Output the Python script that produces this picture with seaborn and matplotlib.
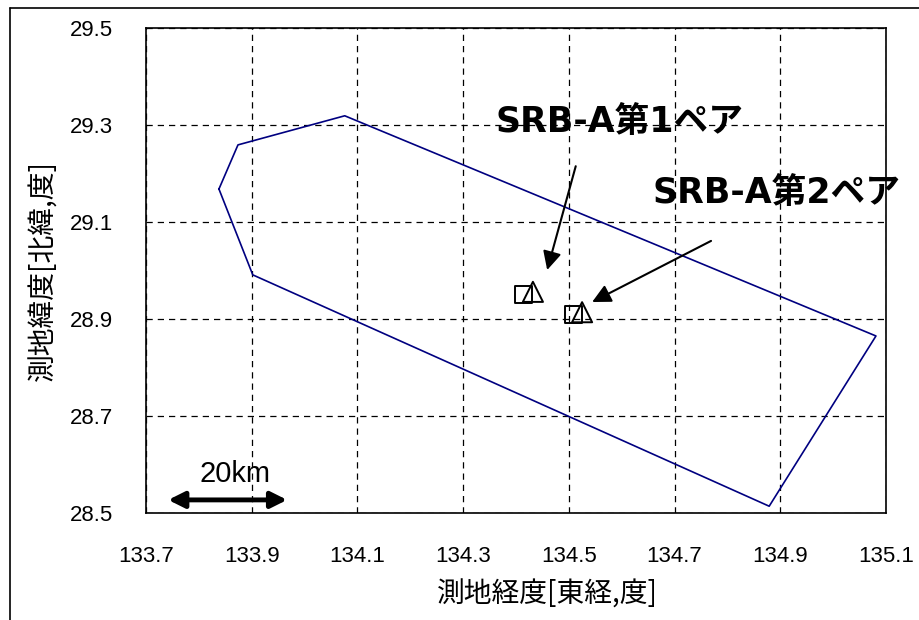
import matplotlib
matplotlib.use("Agg")
import matplotlib.pyplot as plt
import seaborn as sns
import pandas as pd
from matplotlib.lines import Line2D

# ── Données ───────────────────────────────────────────────────────────────────
zone_lon = [133.838, 133.874, 134.076, 135.081, 134.879, 133.902, 133.838]
zone_lat = [29.168, 29.259, 29.319, 28.865, 28.514, 28.991, 29.168]

paires = ["SRB-A第1ペア", "SRB-A第2ペア"]
carre_lon = [134.414, 134.508]
carre_lat = [28.950, 28.909]
tri_lon = [134.432, 134.525]
tri_lat = [28.956, 28.914]

x_ticks = [133.7, 133.9, 134.1, 134.3, 134.5, 134.7, 134.9, 135.1]
y_ticks = [28.5, 28.7, 28.9, 29.1, 29.3, 29.5]

# ── Style ─────────────────────────────────────────────────────────────────────
sns.set_theme(style="white")
plt.rcParams["font.family"] = ["Noto Sans CJK JP", "DejaVu Sans"]
plt.rcParams.update({
    "text.color": "black",
    "axes.labelcolor": "black",
    "xtick.color": "black",
    "ytick.color": "black",
})
_LATIN = ["Liberation Sans", "Noto Sans CJK JP"]
_GRAS = ["DejaVu Sans", "Noto Sans CJK JP"]
_FLECHE = dict(arrowstyle="-|>", color="black", lw=1.5, mutation_scale=28,
               shrinkA=0, shrinkB=0)

fig = plt.figure(figsize=(9.2, 6.2), dpi=100)
ax = fig.add_axes([146 / 920, 1 - 513 / 620, 740 / 920, 485 / 620])

zone = pd.DataFrame({"lon": zone_lon, "lat": zone_lat})
sns.lineplot(data=zone, x="lon", y="lat", sort=False, estimator=None,
             color="#000080", linewidth=1.2, ax=ax)

sns.scatterplot(x=carre_lon, y=carre_lat, marker="s", s=150, facecolors="none",
                edgecolor="black", linewidth=1.4, ax=ax, zorder=3)
sns.scatterplot(x=tri_lon, y=tri_lat, marker="^", s=210, facecolors="none",
                edgecolor="black", linewidth=1.4, ax=ax, zorder=3)

ax.set_xlim(133.7, 135.1)
ax.set_ylim(28.5, 29.5)
ax.set_xticks(x_ticks)
ax.set_yticks(y_ticks)
ax.set_xticklabels([f"{v:.1f}" for v in x_ticks], family=_LATIN)
ax.set_yticklabels([f"{v:.1f}" for v in y_ticks], family=_LATIN)
ax.grid(True, linestyle=(0, (5, 4)), color="black", linewidth=0.9)
ax.tick_params(axis="x", direction="in", length=5, pad=24, labelsize=16,
               color="black", labelcolor="black")
ax.tick_params(axis="y", direction="in", length=0, pad=24, labelsize=16,
               labelcolor="black")
for s in ax.spines.values():
    s.set_color("black")
    s.set_linewidth(1.2)

ax.set_xlabel("測地経度[東経,度]", fontsize=20, color="black")
ax.set_ylabel("測地緯度[北緯,度]", fontsize=20, color="black")
ax.xaxis.set_label_coords((547 - 146) / 740, (513 - 595) / 485)
ax.xaxis.label.set_verticalalignment("center")
ax.yaxis.set_label_coords((44 - 146) / 740, 0.5)
ax.yaxis.label.set_verticalalignment("center")

# ── Annotations ───────────────────────────────────────────────────────────────
ax.annotate("", xy=(134.459, 29.001), xytext=(134.513, 29.215), arrowprops=_FLECHE)
ax.text(134.595, 29.285, paires[0], fontsize=25, fontweight="bold", color="black",
        family=_GRAS, ha="center", va="baseline")
ax.annotate("", xy=(134.544, 28.935), xytext=(134.769, 29.061), arrowprops=_FLECHE)
ax.text(134.659, 29.139, paires[1], fontsize=25, fontweight="bold", color="black",
        family=_GRAS, ha="left", va="baseline", clip_on=False)

# Échelle 20 km
ax.annotate("", xy=(133.742, 28.527), xytext=(133.967, 28.527),
            arrowprops=dict(arrowstyle="<|-|>", color="black", lw=3.5, mutation_scale=24,
                            shrinkA=0, shrinkB=0))
ax.text(133.868, 28.564, "20km", fontsize=21, family=_LATIN, color="black",
        ha="center", va="baseline")

# Cadre de la figure
fig.add_artist(Line2D([10 / 920, 10 / 920], [0, 1 - 8 / 620], color="black", lw=1.2,
                      transform=fig.transFigure))
fig.add_artist(Line2D([10 / 920, 1], [1 - 8 / 620, 1 - 8 / 620], color="black", lw=1.2,
                      transform=fig.transFigure))

fig.savefig("out.png", dpi=100)
